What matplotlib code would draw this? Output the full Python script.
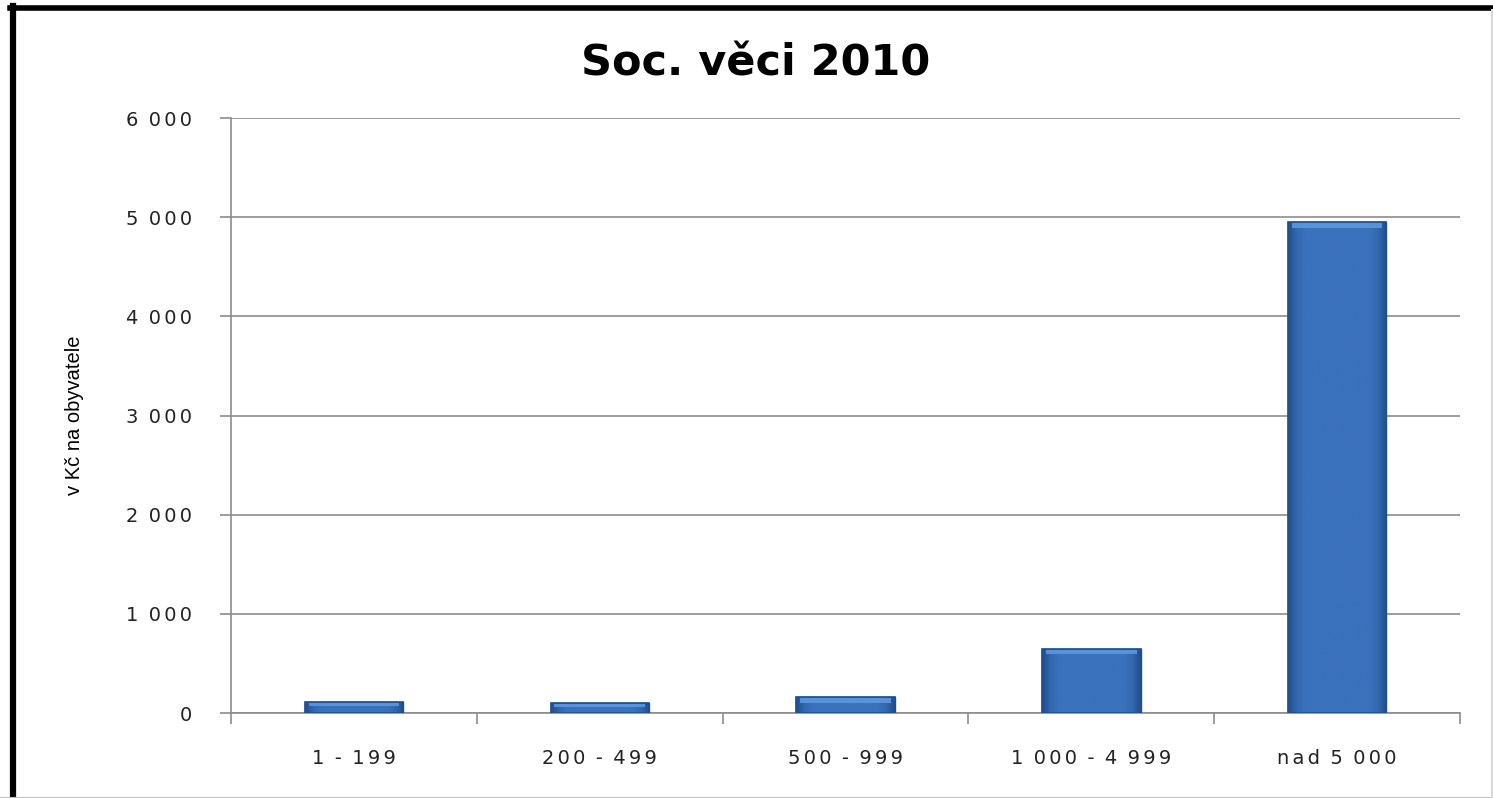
import matplotlib
matplotlib.use('Agg')

import numpy as np
import matplotlib.pyplot as plt
from matplotlib.ticker import FuncFormatter, FixedLocator
from matplotlib.lines import Line2D

# data
kategorie = ['1 - 199', '200 - 499', '500 - 999', '1 000 - 4 999', 'nad 5 000']
hodnoty = [110, 100, 165, 650, 4950]
y_ticky = [0, 1000, 2000, 3000, 4000, 5000, 6000]

titulek = 'Soc. věci 2010'
popis_y = 'v Kč na obyvatele'

BARVA = '#3a70ba'
OKRAJ = '#1f4f8c'


def _roztahni(s):
    # prolozeni znaku, mezera zustane uzka
    s = s.replace(' ', '\u2009')
    return '\u2006'.join(list(s))


def _tisice(v, pos):
    # mezera jako oddelovac tisicu
    return _roztahni('{:,.0f}'.format(v).replace(',', ' '))


fig = plt.figure(figsize=(14.93, 7.98), dpi=100)
fig.patch.set_facecolor('white')
ax = fig.add_axes([0.1547, 0.1065, 0.978 - 0.1547, 0.852 - 0.1065])

x = np.arange(len(kategorie))
sloupce = ax.bar(x, hodnoty, width=0.4, color=BARVA, edgecolor=OKRAJ,
                 linewidth=1.0, zorder=3)

# prechod barvy uvnitr sloupcu
grad = np.linspace(0, 1, 64)
grad = 1 - np.abs(grad - 0.5) * 2
grad = np.clip(grad * 3, 0, 1)
grad = np.tile(grad, (2, 1))
cmap = matplotlib.colors.LinearSegmentedColormap.from_list(
    'modra', ['#224f8e', '#3468b0', '#3b72bd'])
for s in sloupce:
    bx, by = s.get_x(), s.get_y()
    w, h = s.get_width(), s.get_height()
    im = ax.imshow(grad, cmap=cmap, aspect='auto', zorder=3.5,
                   extent=[bx, bx + w, by, by + h], interpolation='bicubic')
    im.set_clip_path(s)
    # svetlejsi horni hrana
    hh = min(h * 0.45, 70)
    ax.add_patch(plt.Rectangle((bx + w * 0.04, by + h - hh * 0.85), w * 0.92,
                               hh * 0.7, color='#5d97de', alpha=0.9, lw=0,
                               zorder=3.6))
    ax.add_patch(plt.Rectangle((bx, by), w, h, fill=False, ec=OKRAJ,
                               lw=1.2, zorder=3.7))

ax.set_xlim(-0.5, len(kategorie) - 0.5)
ax.set_ylim(0, 6000)

ax.yaxis.set_major_locator(FixedLocator(y_ticky))
ax.yaxis.set_major_formatter(FuncFormatter(_tisice))
ax.grid(axis='y', color='#8c8c8c', linewidth=1.2, zorder=0)

ax.set_xticks(x)
ax.set_xticklabels([_roztahni(k) for k in kategorie])
ax.set_xticks(np.arange(len(kategorie) + 1) - 0.5, minor=True)
ax.tick_params(axis='x', which='major', length=0, pad=26, labelsize=14,
               colors='#222222')
ax.tick_params(axis='x', which='minor', length=8, width=1.2, color='#8c8c8c',
               direction='out')
ax.tick_params(axis='y', length=8, width=1.2, color='#8c8c8c', pad=20,
               labelsize=14, labelcolor='#222222')

for t in ax.get_xticklabels() + ax.get_yticklabels():
    t.set_family('DejaVu Sans')

for k in ['top', 'right']:
    ax.spines[k].set_visible(False)
ax.spines['left'].set_color('#8c8c8c')
ax.spines['left'].set_linewidth(1.2)
ax.spines['bottom'].set_color('#8c8c8c')
ax.spines['bottom'].set_linewidth(1.2)

ax.set_ylabel(popis_y, fontsize=14.5, family='Liberation Sans',
              labelpad=30)
fig.text(0.506, 0.921, titulek, ha='center', va='center', fontsize=31,
         fontweight='bold', family='DejaVu Sans')

# ramecek
fig.add_artist(Line2D([10 / 1493, 1], [1 - 7.5 / 798, 1 - 7.5 / 798],
                      color='black', linewidth=4, transform=fig.transFigure))
fig.add_artist(Line2D([13 / 1493, 13 / 1493], [0, 1 - 5.5 / 798],
                      color='black', linewidth=4.5, transform=fig.transFigure))
fig.add_artist(Line2D([0, 1], [0.5 / 798, 0.5 / 798],
                      color='#c0c0c0', linewidth=1.5, transform=fig.transFigure))
fig.add_artist(Line2D([1 - 1.5 / 1493, 1 - 1.5 / 1493], [0, 1 - 10 / 798],
                      color='#d8d8d8', linewidth=1.5, transform=fig.transFigure))

fig.savefig('out.png', dpi=100, facecolor='white')
